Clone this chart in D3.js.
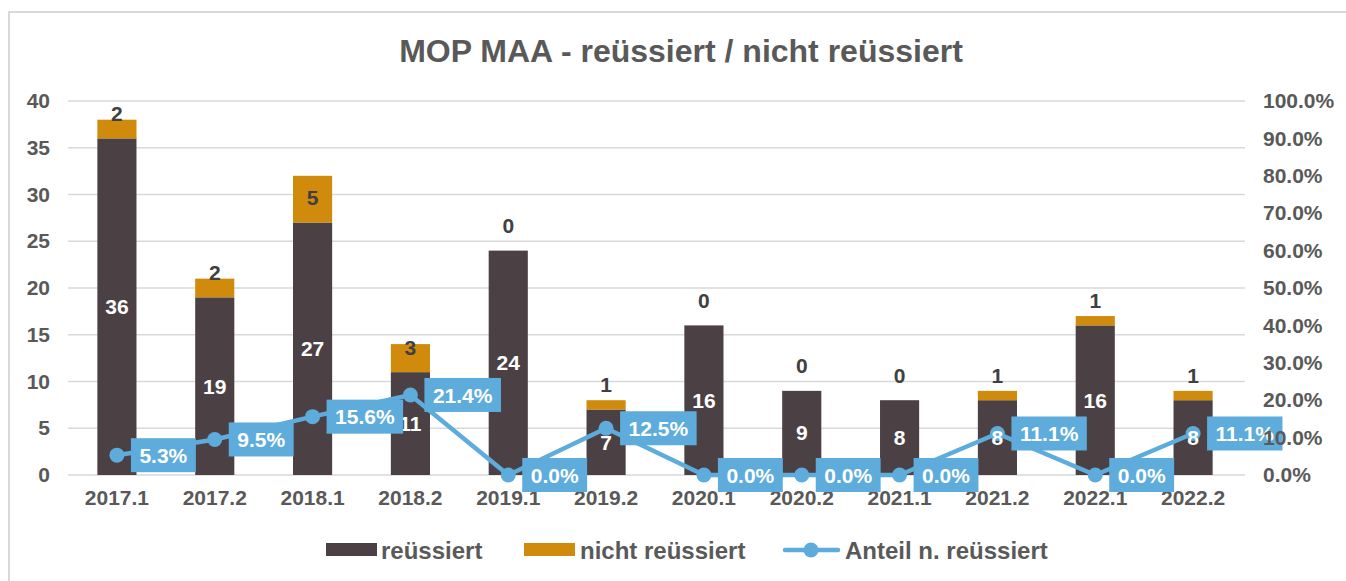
<!DOCTYPE html>
<html>
<head>
<meta charset="utf-8">
<script src="https://cdn.jsdelivr.net/npm/d3@7"></script>
<style>
  body { margin: 0; background: #fff; }
  text { font-family: "Liberation Sans", Arial, sans-serif; font-weight: bold; }
</style>
</head>
<body>
<div id="chart"></div>
<script>
// Data
const semesters = ["2017.1", "2017.2", "2018.1", "2018.2", "2019.1", "2019.2",
  "2020.1", "2020.2", "2021.1", "2021.2", "2022.1", "2022.2"];
const reussiert = [36, 19, 27, 11, 24, 7, 16, 9, 8, 8, 16, 8];
const nichtReussiert = [2, 2, 5, 3, 0, 1, 0, 0, 0, 1, 1, 1];
const anteil = [0.053, 0.095, 0.156, 0.214, 0.0, 0.125, 0.0, 0.0, 0.0, 0.111, 0.0, 0.111];
const leftTicks = [0, 5, 10, 15, 20, 25, 30, 35, 40];
const rightTicks = [0, 0.1, 0.2, 0.3, 0.4, 0.5, 0.6, 0.7, 0.8, 0.9, 1.0];

const width = 1346, height = 581;
const col_dark = "#4b4145", col_orange = "#d08a0c", col_blue = "#5dacdc";
const col_axis = "#595959", col_label = "#404040";

let svg = d3.select("#chart").append("svg")
  .attr("width", width)
  .attr("height", height);

// chart border
svg.append("rect")
  .attr("x", 9).attr("y", 12)
  .attr("width", 1400).attr("height", 600)
  .attr("fill", "#fff")
  .attr("stroke", "#d9d9d9")
  .attr("stroke-width", 2);

let x = d3.scaleBand().domain(semesters).range([68, 1242]).paddingInner(0.6).paddingOuter(0.3);
let y = d3.scaleLinear().domain([0, 40]).range([475, 101]);
let y2 = d3.scaleLinear().domain([0, 1]).range([475, 101]);
let cx = function(d) { return x(d) + x.bandwidth() / 2; };

// Title
svg.append("text")
  .attr("x", 681).attr("y", 62)
  .attr("text-anchor", "middle")
  .style("font-size", "32px")
  .attr("fill", col_axis)
  .text("MOP MAA - reüssiert / nicht reüssiert");

// Gridlines
svg.append("g").selectAll("line").data(leftTicks).enter().append("line")
  .attr("x1", 68).attr("x2", 1245)
  .attr("y1", function(d) { return y(d); })
  .attr("y2", function(d) { return y(d); })
  .attr("stroke", "#d9d9d9")
  .attr("stroke-width", 1.5);

// Left axis
let yAxis = svg.append("g")
  .attr("transform", "translate(60,0)")
  .call(d3.axisLeft(y).tickValues(leftTicks).tickSize(0).tickPadding(10));
yAxis.select(".domain").remove();
yAxis.selectAll("text").style("font-size", "21px").attr("fill", col_axis).attr("font-family", null);

// X axis labels
let xAxis = svg.append("g")
  .attr("transform", "translate(0,475)")
  .call(d3.axisBottom(x).tickSize(0).tickPadding(15));
xAxis.select(".domain").remove();
xAxis.selectAll("text").style("font-size", "21px").attr("fill", col_axis).attr("font-family", null);

// Stacked bars
let bars = svg.append("g");
bars.selectAll(".r").data(semesters).enter().append("rect")
  .attr("x", function(d) { return x(d); })
  .attr("y", function(d, i) { return y(reussiert[i]); })
  .attr("width", x.bandwidth())
  .attr("height", function(d, i) { return y(0) - y(reussiert[i]); })
  .attr("fill", col_dark);

bars.selectAll(".n").data(semesters).enter().append("rect")
  .attr("x", function(d) { return x(d); })
  .attr("y", function(d, i) { return y(reussiert[i] + nichtReussiert[i]); })
  .attr("width", x.bandwidth())
  .attr("height", function(d, i) { return y(reussiert[i]) - y(reussiert[i] + nichtReussiert[i]); })
  .attr("fill", col_orange);

// Share line
let line = d3.line()
  .x(function(d, i) { return cx(semesters[i]); })
  .y(function(d) { return y2(d); });

svg.append("path")
  .datum(anteil)
  .attr("d", line)
  .attr("fill", "none")
  .attr("stroke", col_blue)
  .attr("stroke-width", 4.5)
  .attr("stroke-linejoin", "round");

svg.append("g").selectAll("circle").data(anteil).enter().append("circle")
  .attr("cx", function(d, i) { return cx(semesters[i]); })
  .attr("cy", function(d) { return y2(d); })
  .attr("r", 7.5)
  .attr("fill", col_blue);

// bar labels (above the line)
let barLabels = svg.append("g");
barLabels.selectAll(".rl").data(semesters).enter().append("text")
  .attr("x", cx)
  .attr("y", function(d, i) { return y(reussiert[i] / 2); })
  .attr("dy", "0.36em")
  .attr("text-anchor", "middle")
  .style("font-size", "21px")
  .attr("fill", "#fff")
  .text(function(d, i) { return reussiert[i]; });

barLabels.selectAll(".nl").data(semesters).enter().append("text")
  .attr("x", cx)
  .attr("y", function(d, i) { return y(reussiert[i]) - 25; })
  .attr("dy", "0.36em")
  .attr("text-anchor", "middle")
  .style("font-size", "21px")
  .attr("fill", col_label)
  .text(function(d, i) { return nichtReussiert[i]; });

// Share labels in blue boxes
let pctLabels = svg.append("g").selectAll("g").data(anteil).enter().append("g")
  .attr("transform", function(d, i) { return "translate(" + (cx(semesters[i]) + 14) + "," + y2(d) + ")"; });

pctLabels.append("text")
  .attr("x", 8.5)
  .attr("dy", "0.36em")
  .style("font-size", "21px")
  .attr("fill", "#fff")
  .text(function(d) { return d3.format(".1%")(d); });

pctLabels.each(function() {
  let g = d3.select(this);
  let w = g.select("text").node().getComputedTextLength();
  g.insert("rect", "text")
    .attr("x", 0).attr("y", -17)
    .attr("width", w + 17).attr("height", 34)
    .attr("fill", col_blue);
});

// Right axis
let y2Axis = svg.append("g")
  .attr("transform", "translate(1263,0)")
  .call(d3.axisRight(y2).tickValues(rightTicks).tickSize(0).tickPadding(0).tickFormat(d3.format(".1%")));
y2Axis.select(".domain").remove();
y2Axis.selectAll("text").style("font-size", "21px").attr("fill", col_axis).attr("font-family", null);

// Legend
let legend = svg.append("g").attr("transform", "translate(0,550)");
legend.append("rect").attr("x", 326).attr("y", -7).attr("width", 51).attr("height", 13).attr("fill", col_dark);
legend.append("text").attr("x", 381).attr("dy", "0.36em").style("font-size", "24px").attr("fill", col_axis).text("reüssiert");
legend.append("rect").attr("x", 524).attr("y", -7).attr("width", 51).attr("height", 13).attr("fill", col_orange);
legend.append("text").attr("x", 580).attr("dy", "0.36em").style("font-size", "24px").attr("fill", col_axis).text("nicht reüssiert");
legend.append("line").attr("x1", 785).attr("x2", 838).attr("y1", 0).attr("y2", 0)
  .attr("stroke", col_blue).attr("stroke-width", 4.5).attr("stroke-linecap", "round");
legend.append("circle").attr("cx", 811).attr("cy", 0).attr("r", 7.5).attr("fill", col_blue);
legend.append("text").attr("x", 845).attr("dy", "0.36em").style("font-size", "24px").attr("fill", col_axis).text("Anteil n. reüssiert");
</script>
</body>
</html>
